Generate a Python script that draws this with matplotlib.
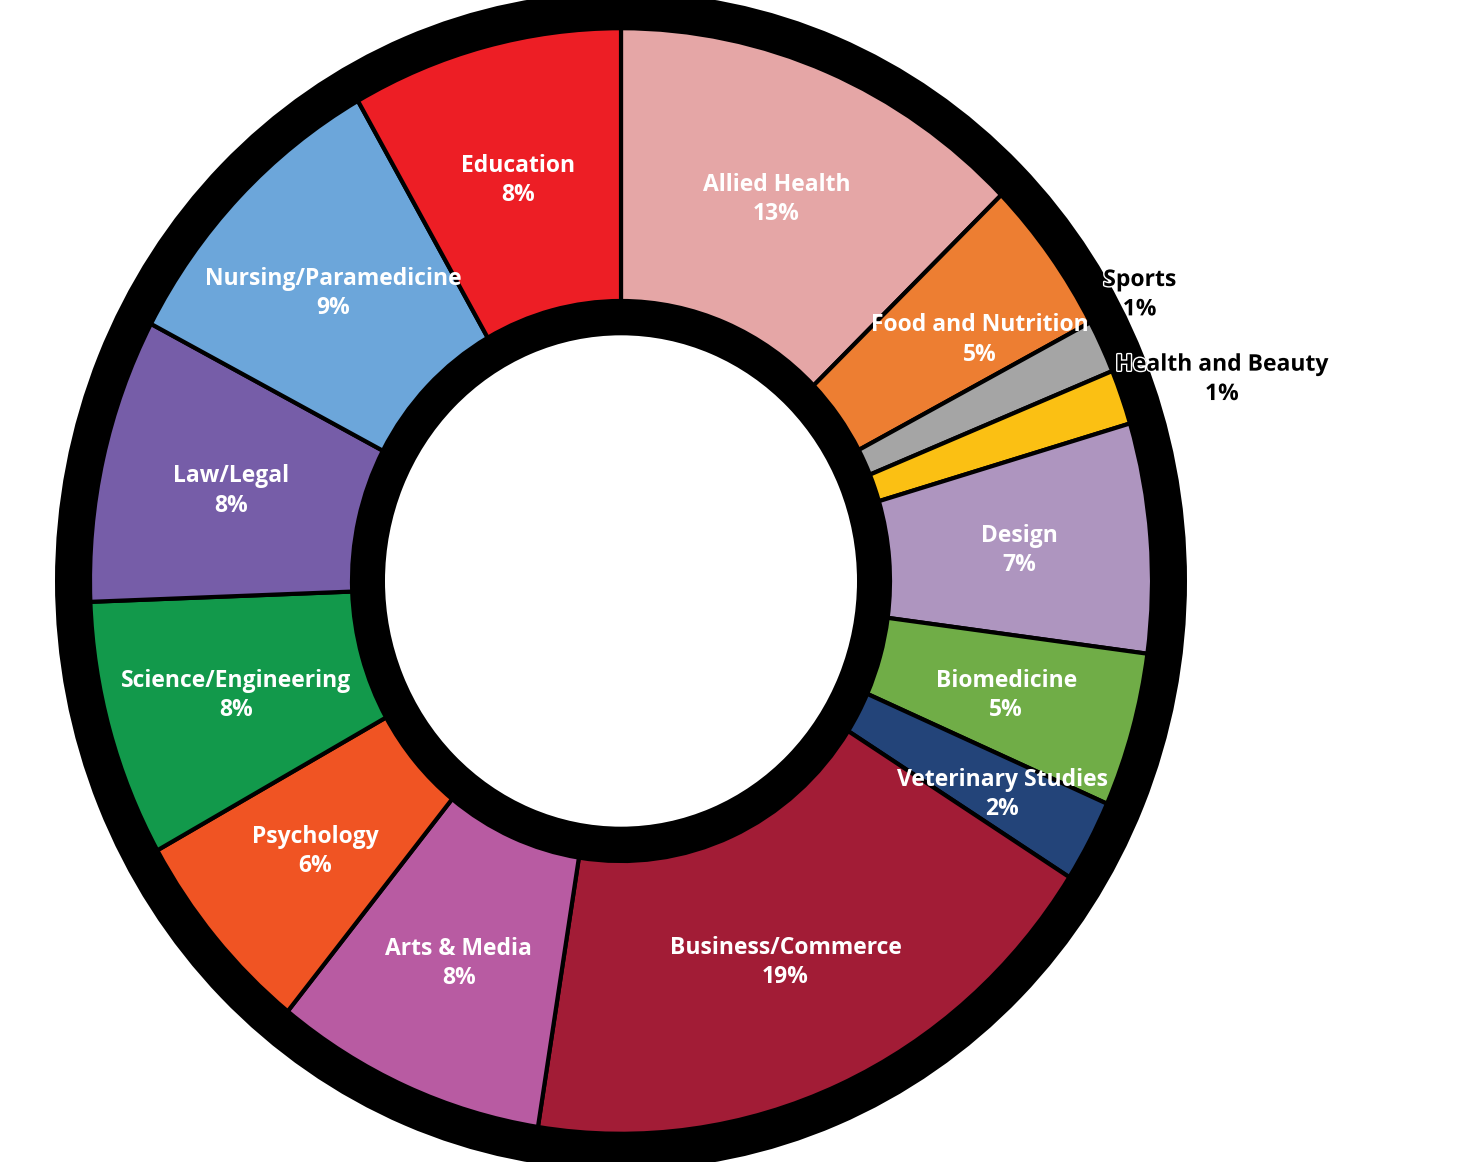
import numpy as np
import matplotlib
matplotlib.use("Agg")
import matplotlib.pyplot as plt
import matplotlib.patheffects as pe
from matplotlib.patches import Wedge

# share of students by study area (clockwise from 12 o'clock)
areas = ["Allied Health", "Food and Nutrition", "Sports", "Health and Beauty",
         "Design", "Biomedicine", "Veterinary Studies", "Business/Commerce",
         "Arts & Media", "Psychology", "Science/Engineering", "Law/Legal",
         "Nursing/Paramedicine", "Education"]
share = [12.7, 4.55, 1.55, 1.6, 6.7, 4.5, 2.4, 18.5, 8.3, 6.1, 7.5, 8.3, 9.05, 8.25]
pct_shown = [13, 5, 1, 1, 7, 5, 2, 19, 8, 6, 8, 8, 9, 8]
colors = ["#E5A6A6", "#ED7E32", "#A5A5A5", "#FBC013", "#AE95BF", "#70AD47",
          "#234479", "#A21C36", "#B85BA2", "#F05423", "#12994B", "#765DA8",
          "#6CA6DA", "#ED1E25"]

W, H = 1463, 1162
stretch = 1.041          # picture is a bit taller than wide
cx, cy = 621, (H - 581) / stretch
R_out, R_in = 531, 269

fig = plt.figure(figsize=(W / 100, H / 100), dpi=100)
ax = fig.add_axes([0, 0, 1, 1])

# thick black outline behind the ring
ax.add_patch(Wedge((cx, cy), R_out + 35, 0, 360, width=R_out - R_in + 68,
                   facecolor="black", edgecolor="none"))

wedges, _ = ax.pie(share, colors=colors, startangle=90, counterclock=False,
                   radius=R_out, center=(cx, cy), frame=True,
                   wedgeprops=dict(width=R_out - R_in, edgecolor="black", linewidth=3))
ax.set_xlim(0, W)
ax.set_ylim(0, H / stretch)
ax.set_aspect("auto")
ax.axis("off")

# label radius / angle tweaks for the small slices
r_lab = {"Food and Nutrition": 428, "Veterinary Studies": 432,
         "Sports": 588, "Health and Beauty": 632}
a_lab = {"Food and Nutrition": -3, "Sports": 3, "Health and Beauty": -1.4}
for w, name, p in zip(wedges, areas, pct_shown):
    ang = np.deg2rad((w.theta1 + w.theta2) / 2 + a_lab.get(name, 0))
    r = r_lab.get(name, 400)
    x = cx + r * np.cos(ang)
    y = cy + r * np.sin(ang) - 2
    if name in ("Sports", "Health and Beauty"):
        ax.text(x, y, f"{name}\n{p}%", ha="center", va="center", color="black",
                fontsize=16.5, fontweight="bold", family="Open Sans", linespacing=1.3,
                path_effects=[pe.withStroke(linewidth=2, foreground="white")])
    else:
        ax.text(x, y, f"{name}\n{p}%", ha="center", va="center", color="white",
                fontsize=16.5, fontweight="bold", family="Open Sans", linespacing=1.3)

fig.savefig("out.png", dpi=100, facecolor="white")
